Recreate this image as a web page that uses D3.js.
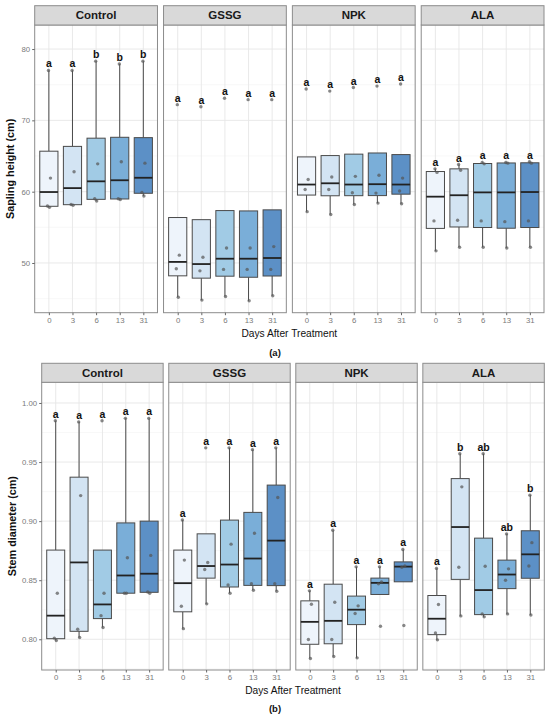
<!DOCTYPE html>
<html>
<head>
<meta charset="utf-8">
<script src="https://cdn.jsdelivr.net/npm/d3@7"></script>
<style>
  body { margin: 0; background: #fff; }
  text { font-family: "Liberation Sans", Arial, sans-serif; }
</style>
</head>
<body>
<svg id="chart" width="550" height="718"></svg>
<script>
const treatments = ['Control', 'GSSG', 'NPK', 'ALA'];
const days = ['0', '3', '6', '13', '31'];

// Sapling height (cm), four plants per day.
const heightControl = [[57.8, 58.0, 61.9, 77.0], [58.1, 58.2, 62.8, 77.0], [58.7, 59.0, 63.9, 78.3], [58.9, 59.0, 64.2, 77.9], [59.4, 59.9, 64.0, 78.3]];
const heightGSSG = [[45.2, 49.2, 51.1, 72.2], [44.8, 48.9, 50.8, 71.9], [45.3, 49.1, 52.1, 73.1], [44.7, 49.1, 52.1, 72.9], [45.4, 49.1, 52.3, 72.9]];
const heightNPK = [[57.2, 60.3, 61.7, 74.4], [56.8, 60.3, 62.05, 74.1], [58.2, 59.85, 62.15, 74.6], [58.4, 59.8, 62.3, 74.8], [58.3, 60.1, 61.9, 75.1]];
const heightALA = [[51.7, 55.9, 62.7, 63.2], [52.2, 56.0, 63.0, 63.8], [52.2, 55.9, 63.9, 64.1], [52.1, 55.8, 64.0, 64.1], [52.2, 55.9, 64.0, 64.2]];
const heightLetters = [['a', 'a', 'b', 'b', 'b'], ['a', 'a', 'a', 'a', 'a'], ['a', 'a', 'a', 'a', 'a'], ['a', 'a', 'a', 'a', 'a']];
const heightTicks = [50, 60, 70, 80];

// Stem diameter (cm), panel (b).
const diamControl = [[0.799, 0.801, 0.839, 0.985], [0.8015, 0.8085, 0.9216, 0.984], [0.810, 0.820, 0.839, 0.985], [0.839, 0.839, 0.869, 0.987], [0.839, 0.840, 0.871, 0.987]];
const diamGSSG = [[0.809, 0.828, 0.867, 0.901], [0.830, 0.859, 0.865, 0.962], [0.839, 0.846, 0.8805, 0.962], [0.8415, 0.847, 0.8897, 0.9605], [0.8407, 0.847, 0.920, 0.962]];
const diamNPK = [[0.7837, 0.7998, 0.8297, 0.841], [0.7854, 0.7998, 0.8314, 0.8923], [0.7843, 0.8218, 0.8283, 0.8613], [0.811, 0.8469, 0.8486, 0.8613], [0.8116, 0.861, 0.862, 0.876]];
const diamALA = [[0.7995, 0.8054, 0.8294, 0.860], [0.8198, 0.861, 0.929, 0.957], [0.819, 0.8215, 0.8618, 0.957], [0.8215, 0.850, 0.8596, 0.8892], [0.8206, 0.862, 0.8818, 0.922]];
const diamLetters = [['a', 'a', 'a', 'a', 'a'], ['a', 'a', 'a', 'a', 'a'], ['a', 'a', 'a', 'a', 'a'], ['a', 'b', 'ab', 'ab', 'b']];
const diamTicks = [0.80, 0.85, 0.90, 0.95, 1.00];

const fills = ['#eef4fb', '#d3e4f3', '#a1cbe5', '#7aaed8', '#5c90c6'];

const svg = d3.select('#chart');
svg.append('rect').attr('width', 550).attr('height', 718).attr('fill', '#fff');

function boxStats(vals) {
  let v = vals.slice().sort(d3.ascending);
  let q1 = d3.quantile(v, 0.25), med = d3.quantile(v, 0.5), q3 = d3.quantile(v, 0.75);
  let iqr = q3 - q1;
  let inside = v.filter(d => d >= q1 - 1.5 * iqr && d <= q3 + 1.5 * iqr);
  return {q1, med, q3, lo: d3.min(inside), hi: d3.max(inside), max: d3.max(v)};
}

function drawFigure(cfg) {
  const g = svg.append('g');

  let panels = d3.scaleBand().domain(treatments)
    .range([cfg.left, cfg.right]).paddingInner(cfg.gap);
  let y = d3.scaleLinear().domain(cfg.yDomain).range([cfg.bottom, cfg.stripTop + cfg.stripH]);
  let top = cfg.stripTop + cfg.stripH;
  let minor = d3.pairs(cfg.ticks).map(p => (p[0] + p[1]) / 2);
  let step = cfg.ticks[1] - cfg.ticks[0];
  minor.unshift(cfg.ticks[0] - step / 2);
  minor.push(cfg.ticks[cfg.ticks.length - 1] + step / 2);
  minor = minor.filter(m => m > cfg.yDomain[0] && m < cfg.yDomain[1]);

  treatments.forEach((t, ti) => {
    let x0 = panels(t);
    let bw = panels.bandwidth();
    let x = d3.scalePoint().domain(days).range([x0, x0 + bw]).padding(0.6);
    let boxW = x.step() * 0.77;
    let p = g.append('g');

    p.append('rect').attr('x', x0).attr('y', top).attr('width', bw)
      .attr('height', cfg.bottom - top).attr('fill', '#fff');

    // Grid.
    p.selectAll('line.minor').data(minor).enter().append('line')
      .attr('x1', x0).attr('x2', x0 + bw)
      .attr('y1', d => y(d)).attr('y2', d => y(d))
      .attr('stroke', '#f3f3f3').attr('stroke-width', 0.6);
    p.selectAll('line.major').data(cfg.ticks).enter().append('line')
      .attr('x1', x0).attr('x2', x0 + bw)
      .attr('y1', d => y(d)).attr('y2', d => y(d))
      .attr('stroke', '#e6e6e6').attr('stroke-width', 0.9);
    p.selectAll('line.vmajor').data(days).enter().append('line')
      .attr('x1', d => x(d)).attr('x2', d => x(d))
      .attr('y1', top).attr('y2', cfg.bottom)
      .attr('stroke', '#e6e6e6').attr('stroke-width', 0.9);

    let groups = cfg.values[ti];
    groups.forEach((vals, di) => {
      let s = boxStats(vals);
      let cx = x(days[di]);
      // Whiskers.
      if (s.hi > s.q3) {
        p.append('line').attr('x1', cx).attr('x2', cx).attr('y1', y(s.q3)).attr('y2', y(s.hi))
          .attr('stroke', '#4a4a4a').attr('stroke-width', 1);
      }
      if (s.lo < s.q1) {
        p.append('line').attr('x1', cx).attr('x2', cx).attr('y1', y(s.q1)).attr('y2', y(s.lo))
          .attr('stroke', '#4a4a4a').attr('stroke-width', 1);
      }
      p.append('rect')
        .attr('x', cx - boxW / 2).attr('y', y(s.q3))
        .attr('width', boxW).attr('height', y(s.q1) - y(s.q3))
        .attr('fill', fills[di]).attr('stroke', '#4a4a4a').attr('stroke-width', 1);
      p.append('line')
        .attr('x1', cx - boxW / 2).attr('x2', cx + boxW / 2)
        .attr('y1', y(s.med)).attr('y2', y(s.med))
        .attr('stroke', '#222').attr('stroke-width', 1.8);

      // Jittered points.
      p.selectAll(null).data(vals).enter().append('circle')
        .attr('cx', (d, i) => cx + [0.6, -1.4, 1.6, -0.4][i])
        .attr('cy', d => y(d))
        .attr('r', 1.7)
        .attr('fill', '#555').attr('fill-opacity', 0.7);

      p.append('text')
        .attr('x', cx).attr('y', y(s.max) - 3)
        .attr('text-anchor', 'middle')
        .attr('font-size', 10.5).attr('font-weight', 'bold').attr('fill', '#111')
        .text(cfg.letters[ti][di]);
    });

    p.append('rect').attr('x', x0).attr('y', top).attr('width', bw)
      .attr('height', cfg.bottom - top).attr('fill', 'none')
      .attr('stroke', '#8c8c8c').attr('stroke-width', 1);

    // Strip.
    p.append('rect').attr('x', x0).attr('y', cfg.stripTop).attr('width', bw)
      .attr('height', cfg.stripH).attr('fill', '#d9d9d9')
      .attr('stroke', '#8c8c8c').attr('stroke-width', 1);
    p.append('text').attr('x', x0 + bw / 2).attr('y', cfg.stripTop + cfg.stripH / 2 + 4)
      .attr('text-anchor', 'middle').attr('font-size', 11.5).attr('font-weight', 'bold')
      .attr('fill', '#1a1a1a').text(t);

    let xAxis = d3.axisBottom(x).tickSize(2.5).tickPadding(2);
    let xa = p.append('g').attr('transform', `translate(0,${cfg.bottom})`).call(xAxis);
    xa.select('.domain').remove();
    xa.selectAll('line').attr('stroke', '#666');
    xa.selectAll('text').attr('font-size', 7.8).attr('fill', '#7a7a7a')
      .attr('font-family', '"Liberation Sans", Arial, sans-serif');

    if (ti === 0) {
      let yAxis = d3.axisLeft(y).tickValues(cfg.ticks).tickFormat(cfg.format).tickSize(2.5).tickPadding(2);
      let ya = p.append('g').attr('transform', `translate(${x0},0)`).call(yAxis);
      ya.select('.domain').remove();
      ya.selectAll('line').attr('stroke', '#666');
      ya.selectAll('text').attr('font-size', 7.8).attr('fill', '#7a7a7a')
        .attr('font-family', '"Liberation Sans", Arial, sans-serif');
    }
  });

  g.append('text')
    .attr('transform', `translate(${cfg.yTitleX},${(top + cfg.bottom) / 2}) rotate(-90)`)
    .attr('text-anchor', 'middle').attr('font-size', 10.8).attr('font-weight', 'bold')
    .attr('fill', '#111').text(cfg.yTitle);

  g.append('text')
    .attr('x', (cfg.left + cfg.right) / 2).attr('y', cfg.xTitleY)
    .attr('text-anchor', 'middle').attr('font-size', 10.2).attr('fill', '#111')
    .text('Days After Treatment');

  g.append('text')
    .attr('x', 275).attr('y', cfg.captionY)
    .attr('text-anchor', 'middle').attr('font-size', 9.5).attr('font-weight', 'bold')
    .attr('font-family', '"Liberation Serif", "Times New Roman", serif')
    .attr('fill', '#111').text(cfg.caption);
}

drawFigure({
  values: [heightControl, heightGSSG, heightNPK, heightALA],
  letters: heightLetters,
  ticks: heightTicks,
  format: d3.format('d'),
  yDomain: [43.03, 83.37],
  left: 34.7, right: 544, gap: 0.047,
  stripTop: 5.7, stripH: 19.3, bottom: 312.7,
  yTitle: 'Sapling height (cm)', yTitleX: 14,
  xTitleY: 336.5, caption: '(a)', captionY: 355.5
});

drawFigure({
  values: [diamControl, diamGSSG, diamNPK, diamALA],
  letters: diamLetters,
  ticks: diamTicks,
  format: d3.format('.2f'),
  yDomain: [0.774, 1.0175],
  left: 41.7, right: 544.3, gap: 0.044,
  stripTop: 363.3, stripH: 19, bottom: 670,
  yTitle: 'Stem diameter (cm)', yTitleX: 15.5,
  xTitleY: 693.8, caption: '(b)', captionY: 711.5
});
</script>
</body>
</html>
